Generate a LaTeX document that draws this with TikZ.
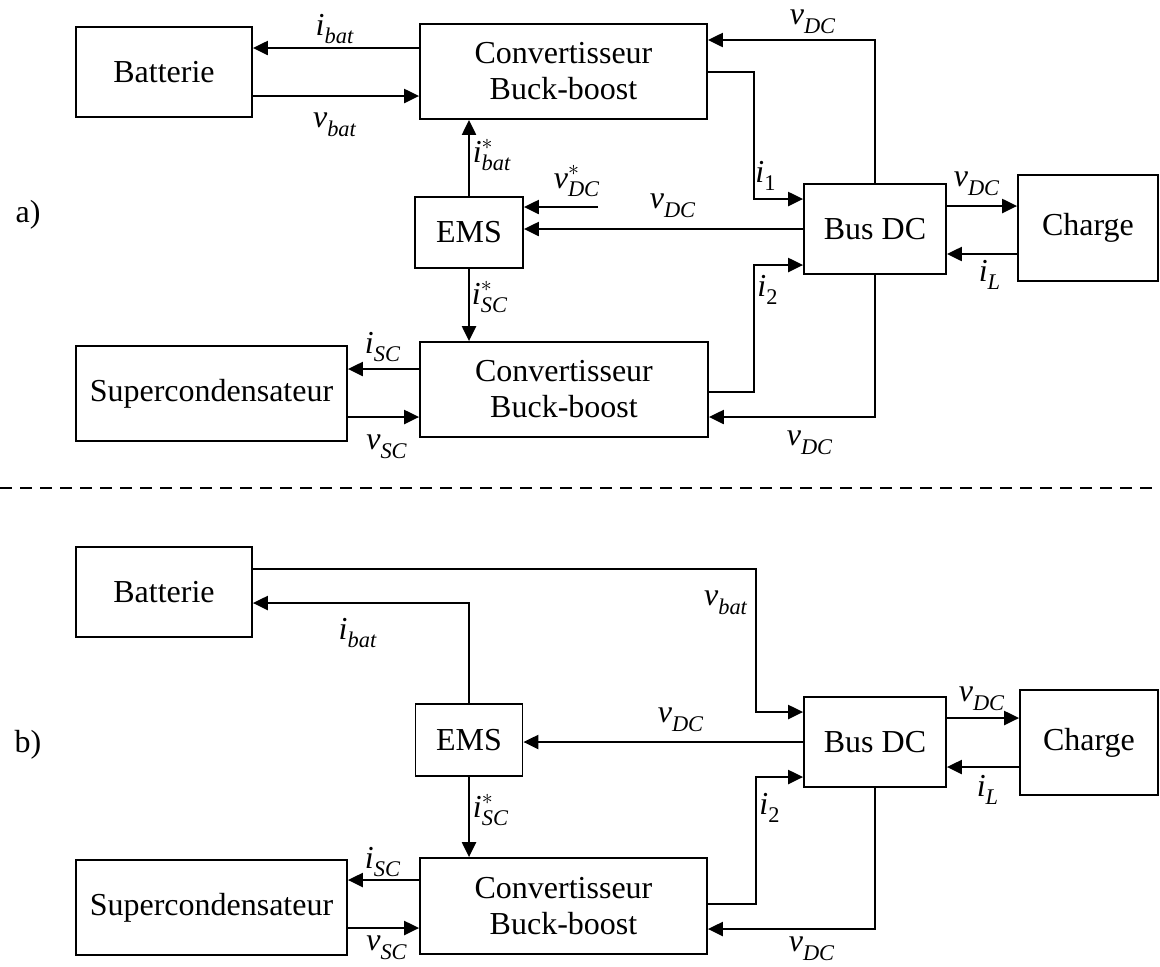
\documentclass[tikz,border=0pt]{standalone}
\usepackage{amsmath}
\usepackage{fontspec}
\setmainfont{Liberation Serif}
\usetikzlibrary{arrows.meta}

\newcommand{\grd}[3][]{$\text{\itshape #2}^{#1}_{\text{\itshape #3}}$}

\begin{document}
\begin{tikzpicture}[x=0.5pt, y=-0.5pt, font=\fontsize{16pt}{18pt}\selectfont]
	\tikzset{bloc/.style={draw=black, line width=0.9pt, align=center, inner sep=0pt},
	fleche/.style={line width=1.1pt, -{Triangle[length=7.5pt,width=7pt]}}};

	\useasboundingbox (0,0) rectangle (1160,966);
	\clip (0,0) rectangle (1160,966);

	% blocs
	\foreach \name/\x/\y/\w/\h/\texte in {bat-a/164/72/88/45/Batterie, convh-a/563.5/71.5/143.5/47.5/{Convertisseur\\Buck-boost},
		ems-a/469/232.5/54/35.5/EMS, bus-a/875/229/71/45/Bus DC, ch-a/1088/228/70/53/Charge,
		sc-a/211.5/393.5/135.5/47.5/Supercondensateur, convb-a/564/389.5/144/47.5/{Convertisseur\\Buck-boost},
		bat-b/164/592/88/45/Batterie, ems-b/469/740/53.5/36/EMS, bus-b/875/742/71/45/Bus DC,
		ch-b/1089/742.5/69/52.5/Charge, sc-b/211.5/907.5/135.5/47.5/Supercondensateur,
		convb-b/563.5/906/143.5/48/{Convertisseur\\Buck-boost}}{
		\node[bloc, minimum width=\w pt, minimum height=\h pt] (\name) at (\x,\y) {\texte};
	}

	\node (lettre-a) at (28,215) {a)};
	\node (lettre-b) at (28,745) {b)};

	% a)
	\draw[fleche] (convh-a.west |- 0,48) -- (bat-a.east |- 0,48);
	\draw[fleche] (bat-a.east |- 0,96) -- (convh-a.west |- 0,96);
	\draw[fleche] (bus-a.north) |- (convh-a.east |- 0,40);
	\draw[fleche] (convh-a.east |- 0,72) -| (754,199) -- (bus-a.west |- 0,199);
	\draw[fleche] (ems-a.north) -- (ems-a.north |- convh-a.south);
	\coordinate (vref-a) at (598,207);
	\draw[fleche] (vref-a) -- (ems-a.east |- vref-a);
	\draw[fleche] (bus-a.west) -- (ems-a.east |- bus-a.west);
	\draw[fleche] (ems-a.south) -- (ems-a.south |- convb-a.north);
	\draw[fleche] (convb-a.east |- 0,392) -| (754,265) -- (bus-a.west |- 0,265);
	\draw[fleche] (bus-a.south) |- (convb-a.east |- 0,417);
	\draw[fleche] (convb-a.west |- 0,369) -- (sc-a.east |- 0,369);
	\draw[fleche] (sc-a.east |- 0,417) -- (convb-a.west |- 0,417);
	\draw[fleche] (bus-a.east |- 0,206) -- (ch-a.west |- 0,206);
	\draw[fleche] (ch-a.west |- 0,254) -- (bus-a.east |- 0,254);

	\foreach \nom/\x/\y/\txt in {la-ibat/335/29/\grd{i}{bat}, la-vbat/335/125/\grd{v}{bat},
		la-vdc1/813/22/\grd{v}{DC}, la-ibatr/492/155/\grd[*]{i}{bat}, la-vdcr/577/181/\grd[*]{v}{DC},
		la-i1/766/176/\grd{i}{\upshape 1}, la-vdc2/673/206/\grd{v}{DC}, la-i2/768/290/\grd{i}{\upshape 2},
		la-vdc3/977/184/\grd{v}{DC}, la-iL/990/275/\grd{i}{L}, la-isc/383/347/\grd{i}{SC},
		la-vsc/387/447/\grd{v}{SC}, la-iscr/490/297/\grd[*]{i}{SC}, la-vdc4/810/443/\grd{v}{DC}}{
		\node (\nom) at (\x,\y) {\txt};
	}

	\draw[dash pattern=on 6pt off 4pt, line width=1pt] (0,488) -- (1160,488);

	% b)
	\draw[fleche] (bat-b.east |- 0,569) -| (756,712) -- (bus-b.west |- 0,712);
	\draw[fleche] (ems-b.north) |- (bat-b.east |- 0,603);
	\draw[fleche] (bus-b.west) -- (ems-b.east |- bus-b.west);
	\draw[fleche] (ems-b.south) -- (ems-b.south |- convb-b.north);
	\draw[fleche] (convb-b.east |- 0,904) -| (756,777) -- (bus-b.west |- 0,777);
	\draw[fleche] (bus-b.south) |- (convb-b.east |- 0,929);
	\draw[fleche] (convb-b.west |- 0,880) -- (sc-b.east |- 0,880);
	\draw[fleche] (sc-b.east |- 0,928) -- (convb-b.west |- 0,928);
	\draw[fleche] (bus-b.east |- 0,718) -- (ch-b.west |- 0,718);
	\draw[fleche] (ch-b.west |- 0,767) -- (bus-b.east |- 0,767);

	\foreach \nom/\x/\y/\txt in {lb-vbat/726/603/\grd{v}{bat}, lb-ibat/358/633/\grd{i}{bat},
		lb-vdc2/681/720/\grd{v}{DC}, lb-vdc3/982/699/\grd{v}{DC}, lb-iL/988/790/\grd{i}{L},
		lb-iscr/491/810/\grd[*]{i}{SC}, lb-i2/770/808/\grd{i}{\upshape 2}, lb-isc/383/862/\grd{i}{SC},
		lb-vsc/387/948/\grd{v}{SC}, lb-vdc4/812/949/\grd{v}{DC}}{
		\node (\nom) at (\x,\y) {\txt};
	}

\end{tikzpicture}
\end{document}
